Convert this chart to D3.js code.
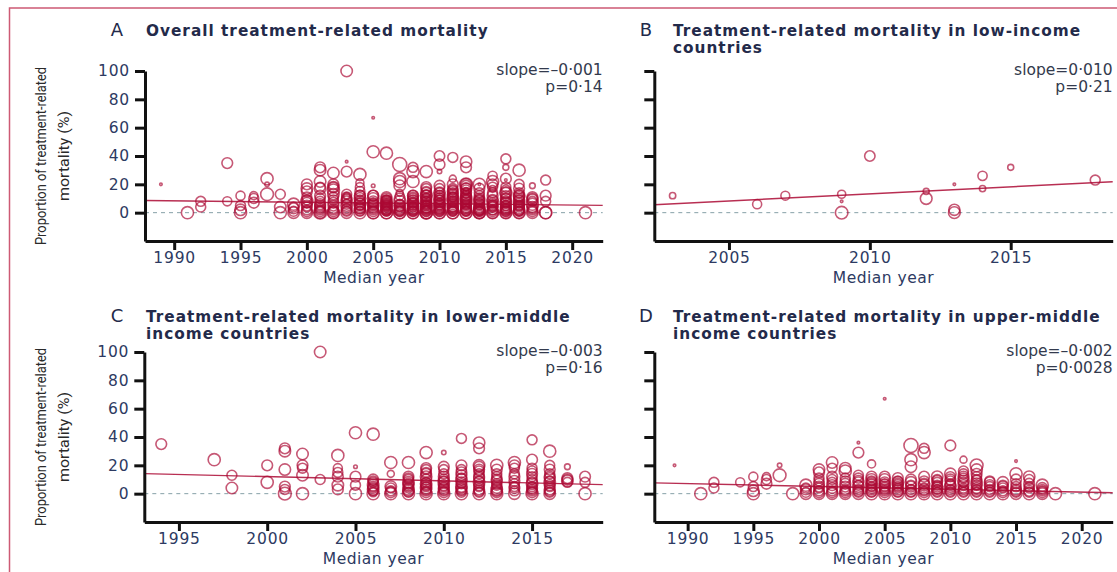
<!DOCTYPE html>
<html>
<head>
<meta charset="utf-8">
<script src="https://cdn.jsdelivr.net/npm/d3@7"></script>
<style>
  body { margin: 0; background: #fff; }
  svg { display: block; }
</style>
</head>
<body>
<svg id="fig" width="1117" height="572"></svg>
<script>
// Each study: [median year, treatment-related mortality (%), patients]
const lowIncome = [
  [2003, 12, 120], [2006, 6, 250], [2007, 12, 240], [2009, 13, 200], [2009, 8, 20],
  [2009, 0, 480], [2010, 40, 330], [2012, 15, 110], [2012, 10, 420], [2013, 20, 20],
  [2013, 2, 380], [2013, 0, 420], [2014, 26, 260], [2014, 17, 120], [2015, 32, 110],
  [2018, 23, 300]
];

const lowerMiddle = [
  [1994, 35, 350], [1997, 24, 450], [1998, 13, 300], [1998, 4, 400],
  [2000, 20, 350], [2000, 8, 450],
  [2001, 32, 350], [2001, 30, 400], [2001, 17, 400], [2001, 5, 350], [2001, 3, 300], [2001, 0, 500],
  [2002, 28, 400], [2002, 20, 350], [2002, 18, 300], [2002, 13, 400], [2002, 0, 450],
  [2003, 100, 400], [2003, 10, 300],
  [2004, 27, 450], [2004, 18, 250], [2004, 15, 300], [2004, 12, 350], [2004, 6, 400], [2004, 3, 350],
  [2005, 43, 450], [2005, 19, 40], [2005, 12, 350], [2005, 6, 300], [2005, 0, 450],
  [2006, 42, 450], [2006, 10, 350], [2006, 9, 300], [2006, 8, 300], [2006, 6, 400], [2006, 5, 350], [2006, 4, 350],
  [2006, 3, 400], [2006, 2, 300], [2006, 1, 250], [2006, 0, 450],
  [2007, 22, 450], [2007, 14, 150], [2007, 5, 400], [2007, 4, 300], [2007, 2, 300], [2007, 1, 350], [2007, 0, 450],
  [2008, 22, 450], [2008, 12, 350], [2008, 11, 300], [2008, 10, 300], [2008, 8, 400], [2008, 7, 350], [2008, 6, 350],
  [2008, 5, 300], [2008, 4, 300], [2008, 3, 400], [2008, 2, 400], [2008, 1, 300], [2008, 0, 450],
  [2009, 29, 450], [2009, 18, 350], [2009, 17, 300], [2009, 15, 300], [2009, 14, 350], [2009, 12, 400], [2009, 10, 350],
  [2009, 8, 300], [2009, 7, 400], [2009, 6, 350], [2009, 5, 300], [2009, 4, 400], [2009, 3, 350], [2009, 2, 300],
  [2009, 1, 350], [2009, 0, 450],
  [2010, 29, 60], [2010, 19, 350], [2010, 17, 300], [2010, 14, 300], [2010, 12, 350], [2010, 10, 350], [2010, 9, 300],
  [2010, 8, 400], [2010, 6, 350], [2010, 5, 300], [2010, 4, 350], [2010, 3, 350], [2010, 2, 300], [2010, 1, 350], [2010, 0, 450],
  [2011, 39, 300], [2011, 20, 350], [2011, 17, 300], [2011, 15, 350], [2011, 13, 350], [2011, 11, 300], [2011, 10, 400],
  [2011, 8, 350], [2011, 7, 300], [2011, 5, 400], [2011, 4, 350], [2011, 3, 350], [2011, 2, 300], [2011, 1, 300], [2011, 0, 450],
  [2012, 36, 400], [2012, 32, 350], [2012, 20, 400], [2012, 19, 350], [2012, 17, 350], [2012, 16, 300], [2012, 14, 300],
  [2012, 12, 350], [2012, 11, 350], [2012, 9, 300], [2012, 8, 400], [2012, 6, 350], [2012, 5, 300], [2012, 3, 350],
  [2012, 2, 350], [2012, 1, 300], [2012, 0, 450],
  [2013, 20, 450], [2013, 17, 350], [2013, 14, 300], [2013, 12, 300], [2013, 10, 350], [2013, 9, 350], [2013, 7, 300],
  [2013, 6, 300], [2013, 4, 350], [2013, 3, 400], [2013, 2, 350], [2013, 1, 350], [2013, 0, 450],
  [2014, 22, 450], [2014, 20, 350], [2014, 18, 300], [2014, 14, 300], [2014, 12, 350], [2014, 9, 350], [2014, 7, 300],
  [2014, 5, 300], [2014, 4, 350], [2014, 2, 300], [2014, 0, 400],
  [2015, 38, 300], [2015, 24, 350], [2015, 18, 300], [2015, 16, 300], [2015, 14, 350], [2015, 12, 300], [2015, 10, 300],
  [2015, 8, 350], [2015, 7, 400], [2015, 5, 300], [2015, 4, 350], [2015, 3, 300], [2015, 2, 300], [2015, 1, 350], [2015, 0, 450],
  [2016, 30, 450], [2016, 20, 300], [2016, 17, 350], [2016, 14, 300], [2016, 12, 350], [2016, 11, 350], [2016, 9, 300],
  [2016, 8, 400], [2016, 6, 350], [2016, 5, 300], [2016, 3, 350], [2016, 2, 350], [2016, 1, 300], [2016, 0, 400],
  [2017, 19, 100], [2017, 11, 350], [2017, 10, 350], [2017, 9, 400], [2017, 8, 300],
  [2018, 12, 350], [2018, 8, 300], [2018, 0, 450]
];

const upperMiddle = [
  [1989, 20, 20], [1991, 0, 450], [1992, 8, 300], [1992, 4, 300], [1994, 8, 250],
  [1995, 12, 250], [1995, 5, 300], [1995, 2, 400], [1995, 0, 450],
  [1996, 12, 200], [1996, 10, 300], [1996, 7, 350],
  [1997, 20, 60], [1997, 13, 500], [1998, 0, 450],
  [1999, 6, 450], [1999, 4, 300], [1999, 3, 350], [1999, 1, 300], [1999, 0, 400],
  [2000, 17, 400], [2000, 15, 350], [2000, 11, 300], [2000, 9, 300], [2000, 7, 350], [2000, 5, 350], [2000, 4, 300],
  [2000, 2, 300], [2000, 1, 350], [2000, 0, 400],
  [2001, 22, 400], [2001, 18, 300], [2001, 12, 350], [2001, 10, 300], [2001, 8, 300], [2001, 6, 350], [2001, 4, 350],
  [2001, 2, 300], [2001, 1, 350], [2001, 0, 400],
  [2002, 18, 400], [2002, 16, 450], [2002, 11, 300], [2002, 9, 300], [2002, 7, 350], [2002, 5, 350], [2002, 3, 300],
  [2002, 2, 300], [2002, 1, 350], [2002, 0, 400],
  [2003, 36, 20], [2003, 29, 350], [2003, 13, 300], [2003, 11, 300], [2003, 9, 350], [2003, 8, 350], [2003, 6, 300],
  [2003, 5, 400], [2003, 3, 300], [2003, 2, 350], [2003, 1, 300], [2003, 0, 400],
  [2004, 21, 200], [2004, 12, 350], [2004, 10, 400], [2004, 9, 300], [2004, 8, 350], [2004, 7, 350], [2004, 6, 400],
  [2004, 5, 300], [2004, 4, 350], [2004, 3, 350], [2004, 2, 400], [2004, 1, 300], [2004, 0, 450],
  [2005, 67, 20], [2005, 12, 350], [2005, 10, 400], [2005, 8, 350], [2005, 7, 300], [2005, 6, 400], [2005, 5, 350],
  [2005, 4, 350], [2005, 3, 300], [2005, 2, 300], [2005, 1, 350], [2005, 0, 450],
  [2006, 11, 350], [2006, 9, 300], [2006, 8, 400], [2006, 7, 350], [2006, 6, 350], [2006, 5, 300], [2006, 4, 300],
  [2006, 3, 350], [2006, 2, 400], [2006, 1, 300], [2006, 0, 450],
  [2007, 34, 600], [2007, 24, 450], [2007, 19, 400], [2007, 10, 350], [2007, 8, 400], [2007, 6, 300], [2007, 5, 350],
  [2007, 3, 300], [2007, 2, 400], [2007, 1, 300], [2007, 0, 450],
  [2008, 32, 300], [2008, 29, 450], [2008, 12, 350], [2008, 9, 300], [2008, 7, 350], [2008, 6, 400], [2008, 4, 300],
  [2008, 3, 350], [2008, 2, 300], [2008, 1, 350], [2008, 0, 450],
  [2009, 12, 400], [2009, 10, 300], [2009, 9, 350], [2009, 8, 300], [2009, 6, 300], [2009, 5, 350], [2009, 4, 400],
  [2009, 3, 300], [2009, 2, 350], [2009, 1, 300], [2009, 0, 450],
  [2010, 34, 350], [2010, 14, 400], [2010, 12, 300], [2010, 10, 350], [2010, 9, 300], [2010, 7, 300], [2010, 6, 350],
  [2010, 5, 400], [2010, 3, 300], [2010, 2, 350], [2010, 1, 300], [2010, 0, 450],
  [2011, 24, 150], [2011, 16, 300], [2011, 14, 300], [2011, 12, 350], [2011, 11, 300], [2011, 9, 400], [2011, 8, 300],
  [2011, 6, 350], [2011, 4, 300], [2011, 3, 300], [2011, 2, 350], [2011, 1, 300], [2011, 0, 450],
  [2012, 20, 500], [2012, 17, 400], [2012, 14, 350], [2012, 12, 300], [2012, 10, 300], [2012, 9, 350], [2012, 7, 400],
  [2012, 6, 300], [2012, 4, 350], [2012, 3, 300], [2012, 2, 350], [2012, 1, 300], [2012, 0, 450],
  [2013, 9, 300], [2013, 8, 350], [2013, 6, 350], [2013, 5, 300], [2013, 3, 300], [2013, 2, 350], [2013, 1, 300], [2013, 0, 450],
  [2014, 8, 400], [2014, 6, 300], [2014, 5, 350], [2014, 4, 300], [2014, 2, 300], [2014, 1, 350], [2014, 0, 450],
  [2015, 23, 20], [2015, 14, 450], [2015, 10, 350], [2015, 7, 300], [2015, 5, 300], [2015, 3, 350], [2015, 2, 350],
  [2015, 1, 300], [2015, 0, 400],
  [2016, 12, 400], [2016, 10, 300], [2016, 7, 350], [2016, 5, 300], [2016, 4, 300], [2016, 2, 350], [2016, 1, 300], [2016, 0, 450],
  [2017, 6, 450], [2017, 4, 350], [2017, 3, 300], [2017, 2, 300], [2017, 1, 350], [2017, 0, 400],
  [2018, 0, 450], [2021, 0, 450]
];

// The overall panel pools every income group
const overall = lowIncome.concat(lowerMiddle, upperMiddle);

const panelLetters = ["A", "B", "C", "D"];
const panelTitles = [
  ["Overall treatment-related mortality"],
  ["Treatment-related mortality in low-income", "countries"],
  ["Treatment-related mortality in lower-middle", "income countries"],
  ["Treatment-related mortality in upper-middle", "income countries"]
];
const yearDomains = [[1987.8, 2022.3], [2002.35, 2018.62], [1993.04, 2019], [1987.46, 2022.36]];
const yearTicks = [
  [1990, 1995, 2000, 2005, 2010, 2015, 2020],
  [2005, 2010, 2015],
  [1995, 2000, 2005, 2010, 2015],
  [1990, 1995, 2000, 2005, 2010, 2015, 2020]
];
const valueTicks = [0, 20, 40, 60, 80, 100];
const slopes = [-0.001, 0.010, -0.003, -0.002];
const pValues = ["0·14", "0·21", "0·16", "0·0028"];
// fitted line: [year, fitted %] at the middle of each panel's span
const trendAnchors = [[2005, 6.85], [2010.5, 13.75], [2006, 10.25], [2004.9, 4.1]];

// ---- drawing ----
const svg = d3.select("#fig");
const RED = "#ab0934";
const INK = "#232a4a";
const TICK_INK = "#2d3a62";
const FONT = "DejaVu Sans, sans-serif";

// frame
svg.append("path")
  .attr("d", "M9.5,572V8H1117")
  .attr("fill", "none")
  .attr("stroke", "#cd5a74")
  .attr("stroke-width", 1.5);

const layouts = [
  { x0: 145, x1: 602.7, yTop: 71, yBot: 241, labels: true, titleY: 36 },
  { x0: 654.3, x1: 1112.7, yTop: 71, yBot: 241, labels: false, titleY: 36 },
  { x0: 144.3, x1: 602.7, yTop: 352, yBot: 522, labels: true, titleY: 322 },
  { x0: 654.3, x1: 1112.7, yTop: 352, yBot: 522, labels: false, titleY: 322 }
];
const datasets = [overall, lowIncome, lowerMiddle, upperMiddle];

const rScale = d3.scaleSqrt().domain([0, 600]).range([0, 7]);

const fmtNum = v => (v < 0 ? "–" : "") + Math.abs(v).toFixed(3).replace(".", "·");

layouts.forEach((L, i) => {
  const x = d3.scaleLinear().domain(yearDomains[i]).range([L.x0, L.x1]);
  const y = d3.scaleLinear().domain([-20, 100]).range([L.yBot, L.yTop]);
  const g = svg.append("g");

  // panel letter and title
  const letterX = L.labels ? 117 : 646;
  const titleX = L.labels ? 146 : 673;
  g.append("text").attr("x", letterX).attr("y", L.titleY)
    .attr("text-anchor", "middle")
    .attr("font-family", FONT).attr("font-size", 18)
    .attr("fill", INK).text(panelLetters[i]);
  panelTitles[i].forEach((t, k) => {
    g.append("text").attr("x", titleX).attr("y", L.titleY + k * 17)
      .attr("font-family", FONT).attr("font-weight", "bold")
      .attr("font-size", 15.3).attr("letter-spacing", 1.0)
      .attr("fill", INK).text(t);
  });

  // zero reference line
  g.append("line")
    .attr("x1", L.x0).attr("x2", L.x1)
    .attr("y1", y(0)).attr("y2", y(0))
    .attr("stroke", "#86a0a8").attr("stroke-width", 1)
    .attr("stroke-dasharray", "4,4");

  // study circles
  g.append("g").selectAll("circle")
    .data(datasets[i])
    .join("circle")
    .attr("cx", d => x(d[0]))
    .attr("cy", d => y(d[1]))
    .attr("r", d => rScale(d[2]))
    .attr("fill", "none")
    .attr("stroke", RED)
    .attr("stroke-opacity", 0.68)
    .attr("stroke-width", 1.6);

  // regression line
  const [ax0, ay0] = trendAnchors[i];
  const perYear = slopes[i] * 100;
  const fit = yr => ay0 + perYear * (yr - ax0);
  const [d0, d1] = yearDomains[i];
  g.append("line")
    .attr("x1", x(d0)).attr("y1", y(fit(d0)))
    .attr("x2", x(d1)).attr("y2", y(fit(d1)))
    .attr("stroke", RED).attr("stroke-opacity", 0.85).attr("stroke-width", 1.4);

  // axes
  const xAxis = d3.axisBottom(x).tickValues(yearTicks[i]).tickFormat(d3.format("d"))
    .tickSize(9).tickSizeOuter(0).tickPadding(2);
  const yAxis = d3.axisLeft(y).tickValues(valueTicks).tickSize(10).tickSizeOuter(0).tickPadding(5);
  if (!L.labels) yAxis.tickFormat("");

  const gx = g.append("g").attr("transform", `translate(0,${L.yBot})`).call(xAxis);
  const gy = g.append("g").attr("transform", `translate(${L.x0},0)`).call(yAxis);
  [gx, gy].forEach(axg => {
    axg.select(".domain").style("stroke", "#111").style("stroke-width", "3px");
    axg.selectAll(".tick line").style("stroke", "#111").style("stroke-width", "3px");
    axg.selectAll(".tick text")
      .attr("font-family", FONT).attr("font-size", 15.5)
      .attr("letter-spacing", 0.8).attr("fill", TICK_INK);
  });

  // x-axis title
  g.append("text")
    .attr("x", (L.x0 + L.x1) / 2).attr("y", L.yBot + 42)
    .attr("text-anchor", "middle")
    .attr("font-family", FONT).attr("font-size", 15.5)
    .attr("letter-spacing", 0.5)
    .attr("fill", TICK_INK).text("Median year");

  // y-axis title
  if (L.labels) {
    const cy = y(40);
    ["Proportion of treatment-related", "mortality (%)"].forEach((t, k) => {
      g.append("text")
        .attr("transform", `translate(${k === 0 ? 46 : 69},${cy}) rotate(-90)`)
        .attr("text-anchor", "middle")
        .attr("font-family", "Liberation Sans Narrow, Roboto, sans-serif")
        .attr("font-size", 14)
        .attr("textLength", k === 0 ? 178 : 90)
        .attr("lengthAdjust", "spacingAndGlyphs")
        .attr("fill", "#2a2a2a").text(t);
    });
  }

  // slope and p value
  const statX = L.x1;
  g.append("text").attr("x", statX).attr("y", L.yTop + 4)
    .attr("text-anchor", "end")
    .attr("font-family", FONT).attr("font-size", 15.5)
    .attr("fill", "#333a4d").text("slope=" + fmtNum(slopes[i]));
  g.append("text").attr("x", statX).attr("y", L.yTop + 21)
    .attr("text-anchor", "end")
    .attr("font-family", FONT).attr("font-size", 15.5)
    .attr("fill", "#333a4d").text("p=" + pValues[i]);
});
</script>
</body>
</html>
